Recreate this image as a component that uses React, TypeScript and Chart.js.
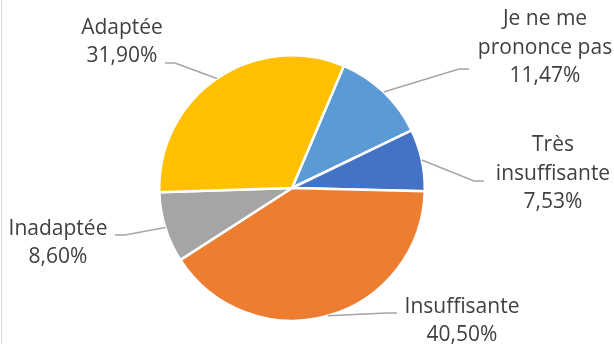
import React, { useEffect, useRef } from "react";
import { Chart, registerables } from "chart.js";

Chart.register(...registerables);

const categories = ["Je ne me prononce pas", "Très insuffisante", "Insuffisante", "Inadaptée", "Adaptée"];
const values = [11.47, 7.53, 40.5, 8.6, 31.9];
const colors = ["#5B9BD5", "#4472C4", "#ED7D31", "#A5A5A5", "#FFC000"];

// label layout (relative to pie centre): text centre, leader end, elbow direction
const labelLayout = [
  { tx: 253, ty: -140, lx: 177, ly: -119, side: -1 },
  { tx: 261, ty: -14, lx: 192, ly: -7, side: -1 },
  { tx: 170, ty: 133, lx: 105, ly: 125, side: -1 },
  { tx: -234, ty: 55, lx: -177, ly: 47, side: 1 },
  { tx: -170, ty: -146, lx: -127, ly: -125, side: 1 },
];

const FONT = '21px "Open Sans"';
const LINE_H = 28.5;
const WRAP = 140;

function fmt(v: number) {
  return v.toFixed(2).replace(".", ",") + "%";
}

function wrap(ctx: CanvasRenderingContext2D, text: string, max: number) {
  const words = text.split(" ");
  const lines: string[] = [];
  let cur = "";
  for (const w of words) {
    const t = cur ? cur + " " + w : w;
    if (cur && ctx.measureText(t).width > max) {
      lines.push(cur);
      cur = w;
    } else cur = t;
  }
  if (cur) lines.push(cur);
  return lines;
}

const labelPlugin = {
  id: "outerLabels",
  afterDatasetsDraw(chart: any) {
    const ctx: CanvasRenderingContext2D = chart.ctx;
    const meta = chart.getDatasetMeta(0);
    ctx.save();
    // left frame line
    ctx.strokeStyle = "#D9D9D9";
    ctx.lineWidth = 1;
    ctx.beginPath();
    ctx.moveTo(1.5, 0);
    ctx.lineTo(1.5, chart.height);
    ctx.stroke();

    ctx.font = FONT;
    meta.data.forEach((arc: any, i: number) => {
      const p = arc.getProps(["x", "y", "startAngle", "endAngle", "outerRadius"], true);
      const mid = (p.startAngle + p.endAngle) / 2;
      const ax = p.x + Math.cos(mid) * p.outerRadius;
      const ay = p.y + Math.sin(mid) * p.outerRadius;
      const L = labelLayout[i];
      const ex = p.x + L.lx;
      const ey = p.y + L.ly;
      const bx = ex + L.side * 10;
      ctx.strokeStyle = "#A6A6A6";
      ctx.lineWidth = 1.5;
      ctx.beginPath();
      ctx.moveTo(ax, ay);
      ctx.lineTo(bx, ey);
      ctx.lineTo(ex, ey);
      ctx.stroke();

      const lines = wrap(ctx, categories[i], WRAP);
      lines.push(fmt(values[i]));
      ctx.fillStyle = "#404040";
      ctx.textAlign = "center";
      ctx.textBaseline = "middle";
      const cx = p.x + L.tx;
      const cy = p.y + L.ty;
      const y0 = cy - ((lines.length - 1) * LINE_H) / 2;
      lines.forEach((ln, k) => ctx.fillText(ln, cx, y0 + k * LINE_H));
    });
    ctx.restore();
  },
};

export default function App() {
  const ref = useRef<HTMLCanvasElement | null>(null);
  useEffect(() => {
    document.body.style.margin = "0";
    const chart = new Chart(ref.current!, {
      type: "pie",
      data: {
        labels: categories,
        datasets: [
          {
            data: values,
            backgroundColor: colors,
            borderColor: "#FFFFFF",
            borderWidth: 2.5,
          },
        ],
      },
      options: {
        responsive: false,
        animation: false,
        rotation: 23,
        layout: { padding: { left: 158, right: 188, top: 54, bottom: 22 } },
        plugins: {
          legend: { display: false },
          tooltip: { enabled: false },
        },
      },
      plugins: [labelPlugin],
    });
    return () => chart.destroy();
  }, []);
  return (
    <div style={{ position: "fixed", left: 0, top: 0, width: 614, height: 344, background: "#fff" }}>
      <canvas ref={ref} width={614} height={344} />
    </div>
  );
}
